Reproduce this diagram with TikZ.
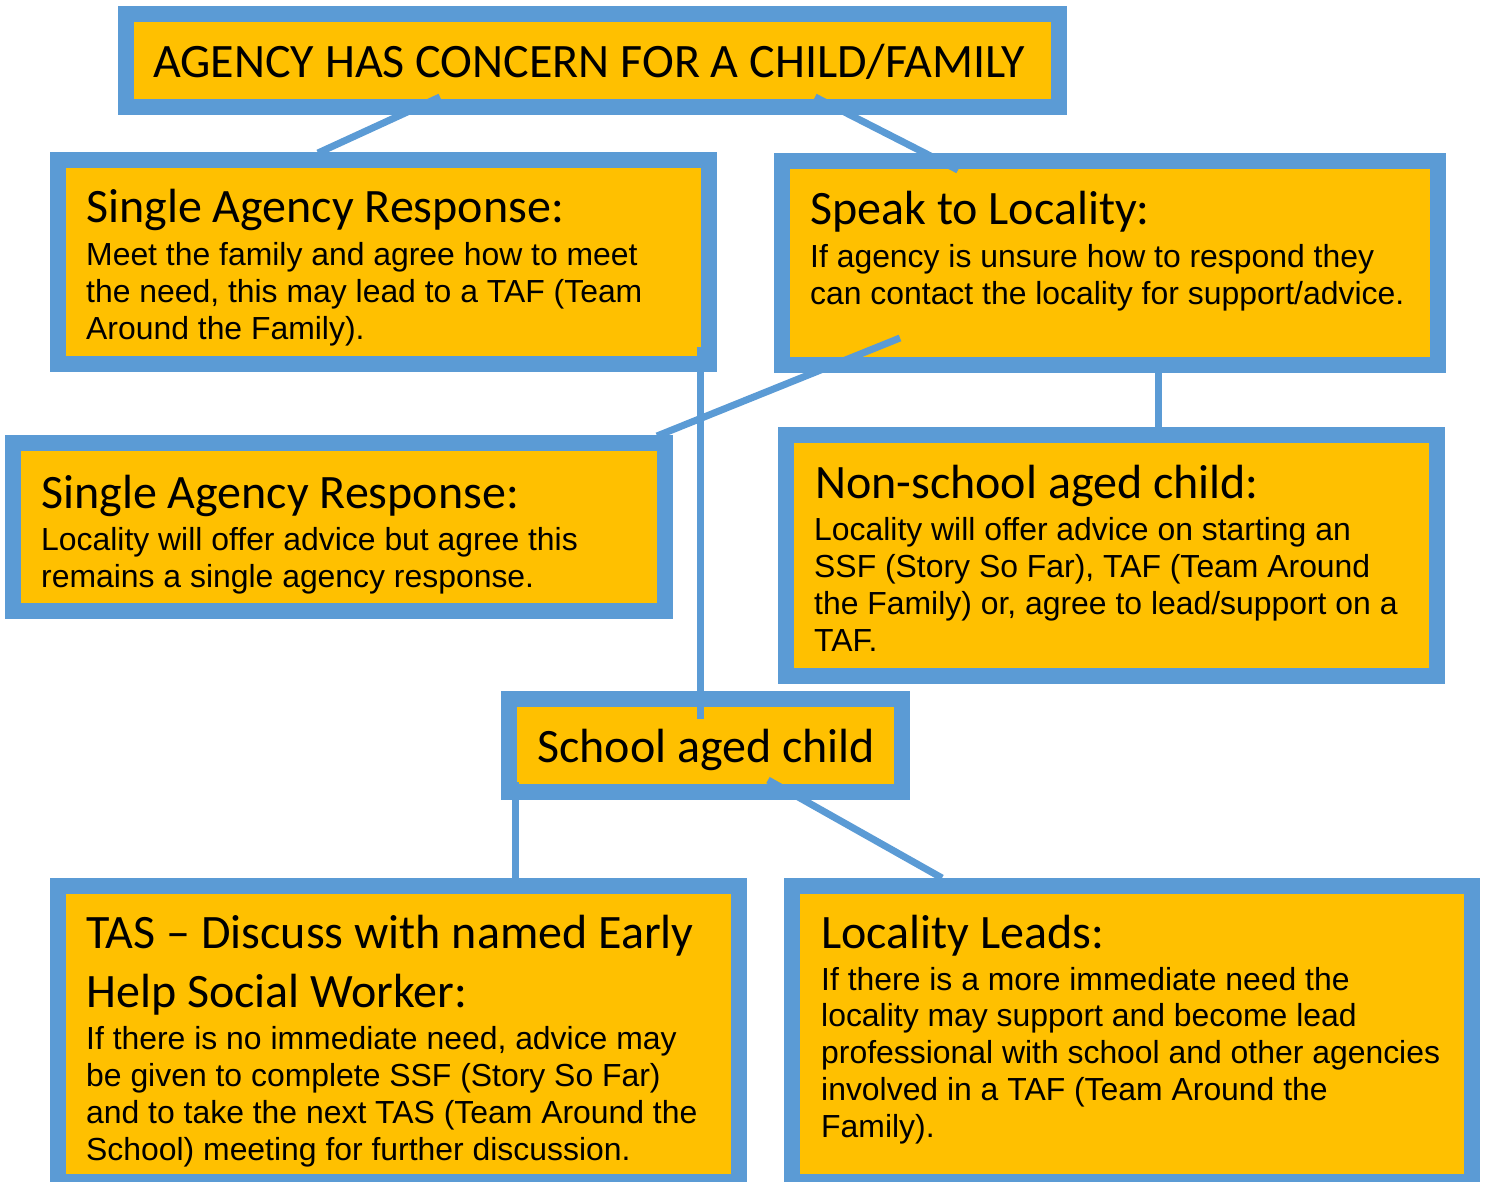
\documentclass[tikz,border=0pt]{standalone}
\usepackage{fontspec}
\setmainfont{Liberation Sans}
\newfontfamily\headfont{Carlito}
\definecolor{boxblue}{HTML}{5B9BD5}
\definecolor{boxgold}{HTML}{FFC000}
\tikzset{
  panel/.style={draw=boxblue, fill=boxgold, line width=16pt, inner sep=0pt, rectangle},
  link/.style={draw=boxblue, line width=7pt},
  % multi-line texts are placed by the baseline of their last line
  headtxt/.style={anchor=base west, inner sep=0pt, align=left, font=\headfont\fontsize{48}{59}\selectfont},
  bodytxt/.style={anchor=base west, inner sep=0pt, align=left, font=\fontsize{31.9}{36.7}\selectfont},
}
\begin{document}
\begin{tikzpicture}[x=1pt,y=-1pt]
\useasboundingbox (0,0) rectangle (1487,1182);
\clip (0,0) rectangle (1487,1182);

% boxes
\node[panel, minimum width=933pt, minimum height=93pt] (top) at (592,60.5) {};
\node[panel, minimum width=651pt, minimum height=204pt] (single) at (383.5,262) {};
\node[panel, minimum width=656pt, minimum height=204pt] (speak) at (1110,263) {};
\node[panel, minimum width=652pt, minimum height=168pt] (singleloc) at (339,527) {};
\node[panel, minimum width=651pt, minimum height=241pt] (nonschool) at (1111.5,555.5) {};
\node[panel, minimum width=393pt, minimum height=93pt] (school) at (705.5,745.5) {};
\node[panel, minimum width=681pt, minimum height=296pt] (tas) at (398.5,1034) {};
\node[panel, minimum width=680pt, minimum height=296pt] (leads) at (1132,1034) {};

% connector end points
\coordinate (a1) at (440,97);   \coordinate (a2) at (318,153);
\coordinate (b1) at (815,97);   \coordinate (b2) at (958,170);
\coordinate (c1) at (900,338);  \coordinate (c2) at (657,436);
\coordinate (d1) at (700,347);  \coordinate (d2) at (700,719);
\coordinate (e1) at (1158,373); \coordinate (e2) at (1158,427);
\coordinate (f1) at (515,782);  \coordinate (f2) at (515,878);
\coordinate (g1) at (768,780);  \coordinate (g2) at (942,878);

% connectors
\draw[link] (a1) -- (a2);
\draw[link] (b1) -- (b2);
\draw[link] (c1) -- (c2);
\draw[link] (d1) -- (d2);
\draw[link] (e1) -- (e2);
\draw[link] (f1) -- (f2);
\draw[link] (g1) -- (g2);

% texts
\node[headtxt] (topT) at (153,78) {AGENCY HAS CONCERN FOR A CHILD/FAMILY};

\node[headtxt] (singleH) at (86,223) {Single Agency Response:};
\node[bodytxt] (singleB) at (86,339) {Meet the family and agree how to meet\\the need, this may lead to a TAF (Team\\Around the Family).};

\node[headtxt] (speakH) at (810,225) {Speak to Locality:};
\node[bodytxt] (speakB) at (810,304) {If agency is unsure how to respond they\\can contact the locality for support/advice.};

\node[headtxt] (singlelocH) at (41,508) {Single Agency Response:};
\node[bodytxt] (singlelocB) at (41,587) {Locality will offer advice but agree this\\remains a single agency response.};

\node[headtxt] (nonschoolH) at (815,498) {Non-school aged child:};
\node[bodytxt] (nonschoolB) at (814,651) {Locality will offer advice on starting an\\SSF (Story So Far), TAF (Team Around\\the Family) or, agree to lead/support on a\\TAF.};

\node[headtxt] (schoolT) at (537,762) {School aged child};

\node[headtxt] (tasH) at (86,1007) {TAS – Discuss with named Early\\Help Social Worker:};
\node[bodytxt] (tasB) at (86,1160) {If there is no immediate need, advice may\\be given to complete SSF (Story So Far)\\and to take the next TAS (Team Around the\\School) meeting for further discussion.};

\node[headtxt] (leadsH) at (821,948) {Locality Leads:};
\node[bodytxt] (leadsB) at (821,1137) {If there is a more immediate need the\\locality may support and become lead\\professional with school and other agencies\\involved in a TAF (Team Around the\\Family).};
\end{tikzpicture}
\end{document}
